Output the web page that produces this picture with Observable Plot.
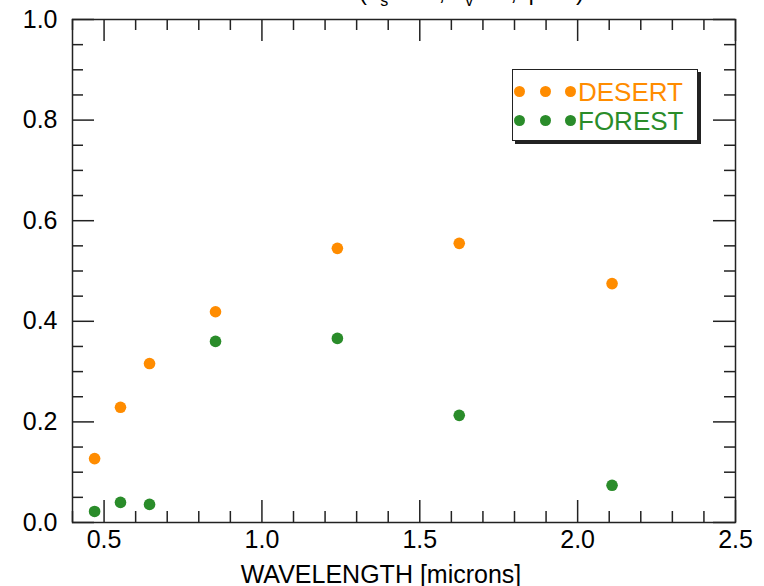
<!DOCTYPE html>
<html>
<head>
<meta charset="utf-8">
<script src="https://cdn.jsdelivr.net/npm/d3@7"></script>
<script src="https://cdn.jsdelivr.net/npm/@observablehq/plot@0.6"></script>
<style>
  html, body { margin: 0; padding: 0; background: #fff; overflow: hidden; }
  #wrap { position: relative; width: 764px; height: 586px; font-family: "Liberation Sans", Arial, Helvetica, sans-serif; }
  #title { position: absolute; left: 178px; top: -22px; font-size: 24px; white-space: nowrap; color: #000; }
  #title sub { font-size: 16px; }
  #legend {
    position: absolute; left: 512px; top: 69px; width: 184px; height: 70px;
    background: #fff; border: 1.5px solid #222; box-shadow: 3px 3px 0 #222;
  }
  .row { position: absolute; left: 0; height: 30px; display: flex; align-items: center; font-size: 26px; }
  .dot { position: absolute; width: 11px; height: 11px; border-radius: 50%; }
  .lbl { position: absolute; left: 65px; line-height: 30px; white-space: nowrap; }
</style>
</head>
<body>
<div id="wrap">
  <div id="title">REFLECTANCE (θ<sub>s</sub>=30°, θ<sub>v</sub>=0°, φ=0°)</div>
</div>
<script>
// Surface reflectance at the seven MODIS land bands
const wavelength = [0.47, 0.552, 0.644, 0.853, 1.239, 1.625, 2.109];
const desert = [0.127, 0.229, 0.316, 0.419, 0.545, 0.555, 0.475];
const forest = [0.022, 0.040, 0.036, 0.360, 0.366, 0.213, 0.074];

const seriesNames = ["DESERT", "FOREST"];
const seriesColors = ["#ff8c00", "#2a8c2a"];

// Axis ticks
const xMajor = [0.5, 1.0, 1.5, 2.0, 2.5];
const xMinor = d3.range(4, 26).map(d => d / 10).filter(d => !xMajor.some(m => Math.abs(m - d) < 1e-9));
const yMajor = [0, 0.2, 0.4, 0.6, 0.8, 1.0];
const yMinor = d3.range(0, 21).map(d => d / 20).filter(d => !yMajor.some(m => Math.abs(m - d) < 1e-9));
const xLabel = "WAVELENGTH [microns]";

const points = [
  ...wavelength.map((w, i) => ({w, r: desert[i], s: seriesNames[0]})),
  ...wavelength.map((w, i) => ({w, r: forest[i], s: seriesNames[1]}))
];

const xDom = [0.4, 2.5], yDom = [0, 1];
const W = 764, H = 586, mL = 72, mR = 29, mT = 19, mB = 64;
const pxX = (xDom[1] - xDom[0]) / (W - mL - mR);   // data units per pixel
const pxY = (yDom[1] - yDom[0]) / (H - mT - mB);
const majLen = 22, minLen = 11;
const tickStyle = {stroke: "#222", strokeWidth: 1.5};

const plot = Plot.plot({
  width: W, height: H,
  marginLeft: mL, marginRight: mR, marginTop: mT, marginBottom: mB,
  style: {fontFamily: "'Liberation Sans', Arial, Helvetica, sans-serif", color: "#000", background: "#fff"},
  x: {domain: xDom},
  y: {domain: yDom},
  color: {domain: seriesNames, range: seriesColors},
  marks: [
    // inward ticks on the bottom and top edges
    Plot.ruleX(xMajor, {x: d => d, y1: yDom[0], y2: yDom[0] + majLen * pxY, ...tickStyle}),
    Plot.ruleX(xMinor, {x: d => d, y1: yDom[0], y2: yDom[0] + minLen * pxY, ...tickStyle}),
    Plot.ruleX(xMajor, {x: d => d, y1: yDom[1], y2: yDom[1] - majLen * pxY, ...tickStyle}),
    Plot.ruleX(xMinor, {x: d => d, y1: yDom[1], y2: yDom[1] - minLen * pxY, ...tickStyle}),
    // inward ticks on the left and right edges
    Plot.ruleY(yMajor, {y: d => d, x1: xDom[0], x2: xDom[0] + majLen * pxX, ...tickStyle}),
    Plot.ruleY(yMinor, {y: d => d, x1: xDom[0], x2: xDom[0] + minLen * pxX, ...tickStyle}),
    Plot.ruleY(yMajor, {y: d => d, x1: xDom[1], x2: xDom[1] - majLen * pxX, ...tickStyle}),
    Plot.ruleY(yMinor, {y: d => d, x1: xDom[1], x2: xDom[1] - minLen * pxX, ...tickStyle}),
    Plot.frame({stroke: "#222", strokeWidth: 1.5}),
    Plot.axisX({ticks: xMajor, tickSize: 0, tickPadding: 8, tickFormat: d3.format(".1f"), fontSize: 25, label: null}),
    Plot.axisY({ticks: yMajor, tickSize: 0, tickPadding: 15, tickFormat: d3.format(".1f"), fontSize: 25, label: null}),
    Plot.text([xLabel], {frameAnchor: "bottom", dy: 52, dx: -23, fontSize: 25, lineAnchor: "middle", fill: "#000"}),
    Plot.dot(points, {x: "w", y: "r", fill: "s", r: 5.8, stroke: "none"})
  ]
});

const wrap = document.getElementById("wrap");
wrap.insertBefore(plot, wrap.firstChild);
plot.style.position = "absolute";
plot.style.left = "0";
plot.style.top = "0";
document.getElementById("title").style.zIndex = 2;

// Legend: three dots then the series name, one row per series
const legend = document.createElement("div");
legend.id = "legend";
seriesNames.forEach((name, i) => {
  const row = document.createElement("div");
  row.className = "row";
  row.style.top = (7 + i * 29) + "px";
  row.style.width = "100%";
  [1, 27, 52].forEach(x => {
    const dot = document.createElement("span");
    dot.className = "dot";
    dot.style.left = x + "px";
    dot.style.top = "9px";
    dot.style.background = seriesColors[i];
    row.appendChild(dot);
  });
  const lbl = document.createElement("span");
  lbl.className = "lbl";
  lbl.style.color = seriesColors[i];
  lbl.textContent = name;
  row.appendChild(lbl);
  legend.appendChild(row);
});
wrap.appendChild(legend);
</script>
</body>
</html>
